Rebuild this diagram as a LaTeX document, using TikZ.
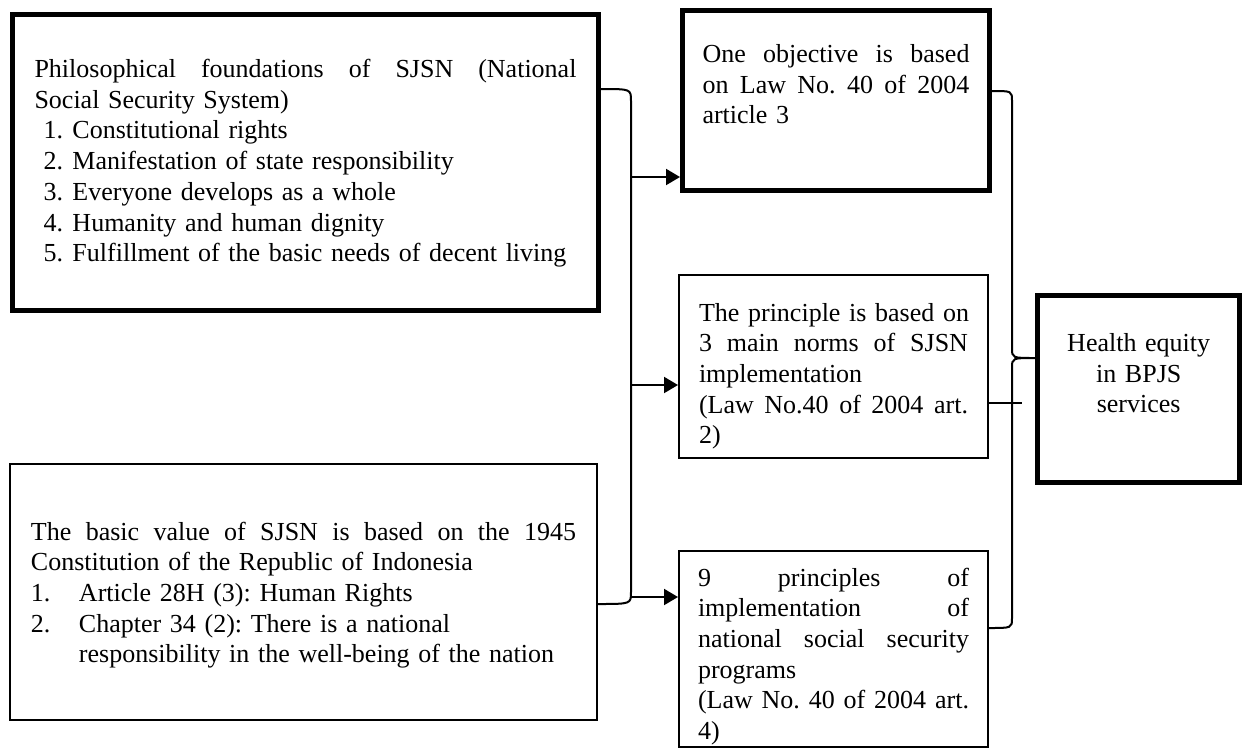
\documentclass[tikz,border=0pt]{standalone}
\usepackage{fontspec}
\setmainfont{Liberation Serif}
\frenchspacing
\usetikzlibrary{arrows.meta,calc}

\begin{document}
\begin{tikzpicture}[x=0.5pt,y=-0.5pt,
    box/.style={draw, anchor=north west, inner ysep=0pt, align=left,
        font=\fontsize{13}{15.35}\selectfont},
    thickbox/.style={box, line width=2.5pt},
    thinbox/.style={box, line width=1pt},
    conn/.style={line width=1pt},
    arr/.style={conn, -{Triangle[length=7pt,width=8pt]}}]
    \useasboundingbox (0,0) rectangle (1243,751);

    % Left column
    \node[thickbox, text width=271pt, inner xsep=11pt, text height=31.5pt, text depth=116.5pt] (phil) at (10,12) {%
        \makebox[271pt][s]{Philosophical \hfill foundations \hfill of \hfill SJSN \hfill (National}\\
        Social Security System)\\
        \hspace*{4.5pt}\makebox[14.5pt][l]{1.}Constitutional rights\\
        \hspace*{4.5pt}\makebox[14.5pt][l]{2.}Manifestation of state responsibility\\
        \hspace*{4.5pt}\makebox[14.5pt][l]{3.}Everyone develops as a whole\\
        \hspace*{4.5pt}\makebox[14.5pt][l]{4.}Humanity and human dignity\\
        \hspace*{4.5pt}\makebox[14.5pt][l]{5.}Fulfillment of the basic needs of decent living};
    \node[thinbox, text width=272.5pt, inner xsep=10.5pt, text height=38pt, text depth=90pt] (basic) at (9,463) {%
        \makebox[272.5pt][s]{The \hfill basic \hfill value \hfill of \hfill SJSN \hfill is \hfill based \hfill on \hfill the \hfill 1945}\\
        Constitution of the Republic of Indonesia\\
        \makebox[24pt][l]{1.}Article 28H (3): Human Rights\\
        \makebox[24pt][l]{2.}Chapter 34 (2): There is a national\\
        \hspace*{24pt}responsibility in the well-being of the nation};

    % Middle column
    \node[thickbox, text width=133.5pt, inner xsep=10pt, text height=26pt, text depth=64pt] (objective) at (680,8) {%
        \makebox[133.5pt][s]{One \hfill objective \hfill is \hfill based}\\
        \makebox[133.5pt][s]{on \hfill Law \hfill No. \hfill 40 \hfill of \hfill 2004}\\
        article 3};
    \node[thinbox, text width=134.5pt, inner xsep=10pt, text height=23pt, text depth=68.5pt] (principle) at (678,274) {%
        \makebox[134.5pt][s]{The \hfill principle \hfill is \hfill based \hfill on}\\
        \makebox[134.5pt][s]{3 \hfill main \hfill norms \hfill of \hfill SJSN}\\
        implementation\\
        \makebox[134.5pt][s]{(Law \hfill No.40 \hfill of \hfill 2004 \hfill art.}\\
        2)};
    \node[thinbox, text width=135.5pt, inner xsep=9.5pt, text height=17.5pt, text depth=80.5pt] (nine) at (678,550) {%
        \makebox[135.5pt][s]{9 \hfill principles \hfill of}\\
        \makebox[135.5pt][s]{implementation \hfill of}\\
        \makebox[135.5pt][s]{national \hfill social \hfill security}\\
        programs\\
        \makebox[135.5pt][s]{(Law \hfill No. \hfill 40 \hfill of \hfill 2004 \hfill art.}\\
        4)};

    % Result
    \node[thickbox, align=center, text width=80pt, inner xsep=10.6pt, text height=28pt, text depth=65.5pt] (equity) at (1035,293) {%
        Health equity\\in BPJS\\services};

    % Bracket joining the two left boxes
    \coordinate (spine) at (631,0);
    \coordinate (top) at ($(phil.north east)+(0,77)$);
    \coordinate (bot) at ($(basic.north east)+(0,141)$);
    \draw[conn] (top) .. controls (spine |- top) .. ($(spine |- top)+(0,12)$)
        -- ($(spine |- bot)+(0,-12)$) .. controls (spine |- bot) .. (bot);

    % Arrows to the middle column
    \coordinate (in1) at ($(objective.south west)+(0,-16)$);
    \coordinate (in2) at ($(principle.north west)+(0,111)$);
    \coordinate (in3) at ($(nine.north west)+(0,47)$);
    \draw[arr] (spine |- in1) -- (in1);
    \draw[arr] (spine |- in2) -- (in2);
    \draw[arr] (spine |- in3) -- (in3);

    % Brace towards the result
    \coordinate (spine2) at (1012,0);
    \coordinate (rtop) at ($(objective.north east)+(0,83)$);
    \coordinate (rbot) at ($(nine.north east)+(0,78)$);
    \coordinate (tip) at ($(equity.north west)+(0,65)$);
    \draw[conn] (rtop) .. controls (spine2 |- rtop) .. ($(spine2 |- rtop)+(0,10)$)
        -- ($(spine2 |- tip)+(0,-10)$) .. controls (spine2 |- tip) .. (tip)
        .. controls (spine2 |- tip) .. ($(spine2 |- tip)+(0,10)$)
        -- ($(spine2 |- rbot)+(0,-10)$) .. controls (spine2 |- rbot) .. (rbot);
    \draw[conn] ($(principle.north east)+(0,129)$) -- ++(33,0);
\end{tikzpicture}
\end{document}
